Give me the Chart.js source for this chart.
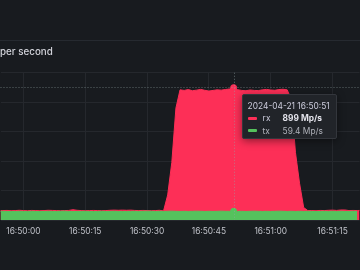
<!DOCTYPE html>
<html><head><meta charset="utf-8">
<script src="https://cdn.jsdelivr.net/npm/chart.js@4/dist/chart.umd.min.js"></script>
<style>
html,body{margin:0;padding:0;background:#181b1f;overflow:hidden}
#wrap{position:relative;width:360px;height:270px}
#tip{position:absolute;display:none;background:#212429;border:1px solid #33363c;border-radius:2px;box-shadow:0 2px 8px rgba(0,0,0,.45);font-family:Inter,"Noto Sans",sans-serif;font-size:8.4px;line-height:12.4px;color:#ccccdc;padding:5px 6px 1px 5px;white-space:nowrap;box-sizing:border-box;width:95px}
#tip .row{display:flex;align-items:center}
#tip .dash{width:9px;height:3px;border-radius:1px;margin-right:6px;flex:none}
#tip .lab{width:20px;flex:none}
#tip .val{width:39px;text-align:right;flex:none}
#tip .row.hi .val{font-weight:700;color:#e4e4ec}
#tip .row.lo{color:#b0b2ba}
</style></head><body>
<div id="wrap"><canvas id="c" width="360" height="270"></canvas><div id="tip"></div></div>
<script>
// seconds relative to 16:50:00
const seconds = [-6,-5,-4,-3,-2,-1,0,1,2,3,4,5,6,7,8,9,10,11,12,13,14,15,16,17,18,19,20,21,22,23,24,25,26,27,28,29,30,31,32,33,34,35,36,37,38,39,40,41,42,43,44,45,46,47,48,49,50,51,52,53,54,55,56,57,58,59,60,61,62,63,64,65,66,67,68,69,70,71,72,73,74,75,76,77,78,79,80,81,82];
const rxValues = [63,64,65,63,64,66,64,63,65,64,63,64,66,65,64,63,64,65,70,66,64,63,64,65,64,63,64,66,67,66,67,66,67,65,64,65,64,63,64,66,
  62,170,390,760,
  884,880,886,878,882,887,881,876,880,884,882,886,890,899,885,880,878,883,880,879,884,887,883,881,886,888,884,
  820,460,250,85,64,
  64,63,65,64,66,67,65,68,68,64,65,64,66];
const txValues = [58,59,58,57,58,59,58,58,59,58,57,58,59,58,58,59,60,58,57,58,58,59,58,57,58,59,58,58,59,58,57,58,58,59,58,59,60,59,58,59,
  58,59,60,59,58,59,58,59,60,59,58,59,58,59,60,59,59,59.4,58,59,58,59,60,59,58,59,58,59,60,59,58,
  59,58,59,58,59,58,57,58,59,58,59,58,59,58,58,59,58];
const tickSeconds = [0,15,30,45,60,75];
const yTicks = [0,200,400,600,800,1000];
const seriesNames = ['rx','tx'];
const unit = 'Mp/s';
const titleText = 'per second';
const hoverSecond = 51;
const cursorValue = 905;
const datePrefix = '2024-04-21';

const RED = '#fd2f57', GREEN = '#55c25d';

function clock(s){
  const t = 16*3600 + 50*60 + s;
  const p = n => String(n).padStart(2,'0');
  return p(Math.floor(t/3600)) + ':' + p(Math.floor(t%3600/60)) + ':' + p(t%60);
}

const crosshair = {
  id:'crosshair',
  beforeDraw(chart){
    const c = chart.ctx;
    c.save();
    c.strokeStyle = '#262a30'; c.lineWidth = 1;
    c.beginPath(); c.moveTo(0,40.5); c.lineTo(chart.width,40.5); c.stroke();
    c.restore();
  },
  afterDatasetsDraw(chart){
    const c = chart.ctx, a = chart.chartArea;
    const x = Math.round(chart.scales.x.getPixelForValue(hoverSecond)) + 0.5;
    const y = Math.round(chart.scales.y.getPixelForValue(cursorValue)) + 0.5;
    c.save();
    c.strokeStyle = 'rgba(150,170,170,0.55)'; c.lineWidth = 1; c.setLineDash([1,2]);
    c.beginPath(); c.moveTo(a.left,y); c.lineTo(a.right,y); c.stroke();
    c.beginPath(); c.moveTo(x,a.top); c.lineTo(x,a.bottom); c.stroke();
    c.restore();
  }
};

function externalTip(ctx){
  const tt = ctx.tooltip, el = document.getElementById('tip');
  if (!tt || tt.opacity === 0 || !tt.dataPoints) { el.style.display='none'; return; }
  let html = '<div>' + datePrefix + ' ' + clock(hoverSecond) + '</div>';
  tt.dataPoints.forEach((dp,i) => {
    const v = Number(dp.raw.toPrecision(3));
    html += '<div class="row ' + (i===0?'hi':'lo') + '"><span class="dash" style="background:' + dp.dataset.borderColor + '"></span><span class="lab">' + dp.dataset.label + '</span><span class="val">' + v + ' ' + unit + '</span></div>';
  });
  el.innerHTML = html;
  const ch = ctx.chart;
  el.style.left = (ch.scales.x.getPixelForValue(hoverSecond) + 8) + 'px';
  el.style.top = (ch.scales.y.getPixelForValue(cursorValue) + 7) + 'px';
  el.style.display = 'block';
}

const chart = new Chart(document.getElementById('c'), {
  type:'line',
  data:{
    labels: seconds,
    datasets:[
      {label:seriesNames[0], data:rxValues, borderColor:RED, backgroundColor:RED, fill:'origin', order:2,
       borderWidth:1, pointRadius:0, pointHoverRadius:3, pointHoverBackgroundColor:RED, pointHoverBorderColor:RED, pointHoverBorderWidth:1, tension:0},
      {label:seriesNames[1], data:txValues, borderColor:GREEN, backgroundColor:GREEN, fill:'origin', order:1,
       borderWidth:1, pointRadius:0, pointHoverRadius:3, pointHoverBackgroundColor:GREEN, pointHoverBorderColor:GREEN, pointHoverBorderWidth:1, tension:0}
    ]
  },
  options:{
    responsive:false, animation:false, events:[],
    layout:{padding:0},
    plugins:{
      legend:{display:false},
      title:{display:true, text:titleText, align:'start', color:'#d3d4db',
        font:{family:'Inter', size:9.8, weight:'500', lineHeight:1.2}, padding:{top:46,bottom:15}},
      tooltip:{enabled:false, external:externalTip, mode:'index', intersect:false}
    },
    scales:{
      x:{type:'linear', min:-5.57, max:81.55,
        afterBuildTicks:s=>{ s.ticks = tickSeconds.map(v=>({value:v})); },
        afterFit:s=>{ s.height = 50; },
        grid:{color:'#25282d', drawTicks:false}, border:{display:false},
        ticks:{padding:6, maxRotation:0, autoSkip:false, color:'#bfc1c8', font:{family:'Inter', size:8.4}, callback:v=>clock(v)}},
      y:{min:0, max:1000,
        afterBuildTicks:s=>{ s.ticks = yTicks.map(v=>({value:v})); },
        afterFit:s=>{ s.width = 0; },
        grid:{color:'#25282d', drawTicks:false}, border:{display:false},
        ticks:{display:false}}
    }
  },
  plugins:[crosshair]
});

const idx = seconds.indexOf(hoverSecond);
const active = [{datasetIndex:0,index:idx},{datasetIndex:1,index:idx}];
chart.setActiveElements(active);
chart.update();
chart.tooltip.setActiveElements(active, {x:chart.scales.x.getPixelForValue(hoverSecond), y:chart.scales.y.getPixelForValue(cursorValue)});
chart.draw();
</script>
</body></html>
